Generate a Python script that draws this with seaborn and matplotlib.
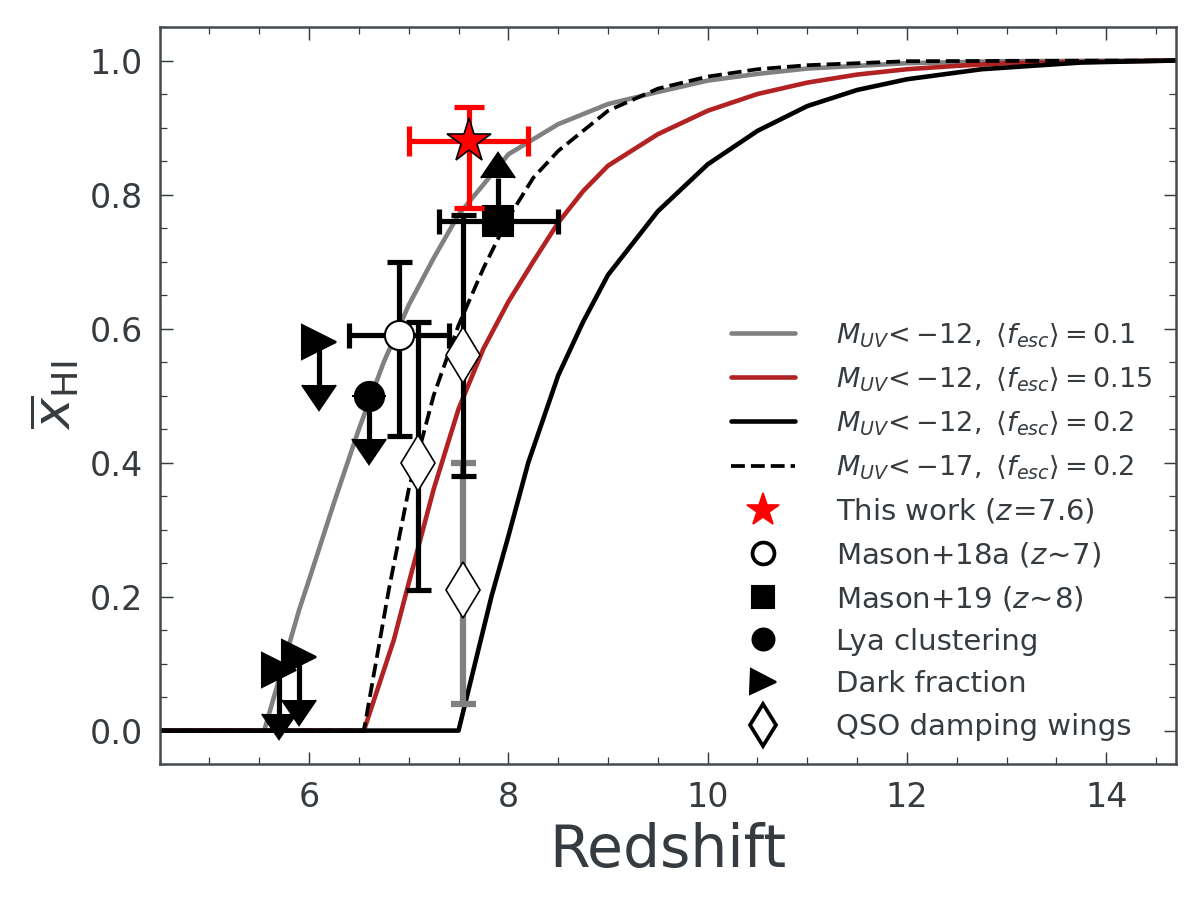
import numpy as np
import pandas as pd
import seaborn as sns
import matplotlib.pyplot as plt
from matplotlib.ticker import MultipleLocator

# model curves (redshift, mean neutral fraction)
z_f01 = [4.5, 5.55, 5.9, 6.0, 6.25, 6.5, 6.75, 7.0, 7.25, 7.5, 7.75, 8.0, 8.5, 9.0, 9.5, 10.0, 10.5, 11.0, 12.0, 13.0, 14.7]
x_f01 = [0.0, 0.0, 0.18, 0.225, 0.34, 0.45, 0.55, 0.635, 0.705, 0.77, 0.815, 0.86, 0.905, 0.935, 0.953, 0.97, 0.98, 0.988, 0.996, 0.999, 1.0]

z_f015 = [4.5, 6.55, 6.85, 7.0, 7.25, 7.5, 7.75, 8.0, 8.25, 8.5, 8.75, 9.0, 9.5, 10.0, 10.5, 11.0, 11.5, 12.0, 12.5, 13.0, 14.7]
x_f015 = [0.0, 0.0, 0.135, 0.22, 0.36, 0.48, 0.57, 0.64, 0.70, 0.758, 0.805, 0.843, 0.89, 0.925, 0.95, 0.967, 0.979, 0.987, 0.992, 0.996, 1.0]

z_f02 = [4.5, 7.5, 7.83, 8.0, 8.2, 8.5, 8.75, 9.0, 9.5, 10.0, 10.5, 11.0, 11.5, 12.0, 12.75, 13.75, 14.7]
x_f02 = [0.0, 0.0, 0.20, 0.29, 0.40, 0.53, 0.61, 0.68, 0.775, 0.845, 0.895, 0.932, 0.956, 0.972, 0.987, 0.997, 1.0]

z_m17 = [4.5, 6.55, 6.8, 7.0, 7.25, 7.5, 7.75, 8.0, 8.25, 8.5, 9.0, 9.5, 10.0, 10.5, 11.0, 12.0, 14.7]
x_m17 = [0.0, 0.0, 0.21, 0.36, 0.50, 0.605, 0.69, 0.765, 0.825, 0.865, 0.925, 0.958, 0.976, 0.987, 0.993, 0.999, 1.0]

# this work
tw_z, tw_x = [7.6], [0.88]
tw_zerr = [0.6]
tw_xerr = [[0.10], [0.05]]

# Mason+18a
m18_z, m18_x = [6.9], [0.59]
m18_zerr = [0.5]
m18_xerr = [[0.15], [0.11]]

# Mason+19 (lower limit)
m19_z, m19_x = [7.9], [0.76]
m19_zerr = [0.6]

# Lya clustering (upper limit)
lya_z, lya_x = [6.6], [0.50]

# dark fraction (upper limits)
dark_z = [5.7, 5.9, 6.1]
dark_x = [0.09, 0.11, 0.58]

# QSO damping wings
qso_z = [7.09, 7.54]
qso_x = [0.40, 0.56]
qso_err = [[0.19, 0.18], [0.21, 0.21]]
qso2_z, qso2_x = [7.54], [0.21]
qso2_err = [[0.17], [0.19]]

lim_len = 0.065

txt = '#363b40'
sns.set_theme(style='ticks', rc={
    'axes.edgecolor': '#454a4f', 'axes.linewidth': 1.2,
    'xtick.direction': 'in', 'ytick.direction': 'in',
    'xtick.top': True, 'ytick.right': True,
    'xtick.color': txt, 'ytick.color': txt,
    'axes.labelcolor': txt, 'text.color': txt,
    'xtick.major.size': 6, 'ytick.major.size': 6,
    'xtick.minor.size': 3.5, 'ytick.minor.size': 3.5,
    'xtick.major.width': 0.7, 'ytick.major.width': 0.7,
    'xtick.minor.width': 0.6, 'ytick.minor.width': 0.6,
    'xtick.minor.visible': True, 'ytick.minor.visible': True,
})
plt.rcParams['font.family'] = ['DejaVu Sans']
plt.rcParams['mathtext.fontset'] = 'dejavusans'

fig, ax = plt.subplots(figsize=(8, 6), dpi=150)
fig.subplots_adjust(left=0.133, right=0.98, bottom=0.151, top=0.97)

lab = r'$M_{UV}\!<-%s,\ \langle f_{esc}\rangle=%s$'
sns.lineplot(x=z_f01, y=x_f01, color='gray', lw=2.2, ax=ax, label=lab % ('12', '0.1'), zorder=2)
sns.lineplot(x=z_f015, y=x_f015, color='#b22222', lw=2.2, ax=ax, label=lab % ('12', '0.15'), zorder=2)
sns.lineplot(x=z_f02, y=x_f02, color='black', lw=2.2, ax=ax, label=lab % ('12', '0.2'), zorder=2)
sns.lineplot(x=z_m17, y=x_m17, color='black', lw=1.8, linestyle='--', ax=ax,
             label=lab % ('17', '0.2'), zorder=2)

# error bars and limits
ax.errorbar(qso2_z, qso2_x, yerr=qso2_err, fmt='none', ecolor='gray', elinewidth=3,
            capsize=6, capthick=3, zorder=3)
ax.errorbar(qso_z, qso_x, yerr=qso_err, fmt='none', ecolor='black', elinewidth=2.5,
            capsize=6, capthick=2.5, zorder=3)
ax.errorbar(m18_z, m18_x, xerr=m18_zerr, yerr=m18_xerr, fmt='none', ecolor='black',
            elinewidth=2.5, capsize=6, capthick=2.5, zorder=3)
ax.errorbar(m19_z, m19_x, xerr=m19_zerr, fmt='none', ecolor='black',
            elinewidth=2.5, capsize=6, capthick=2.5, zorder=3)
ax.errorbar(m19_z, m19_x, yerr=lim_len, lolims=True, fmt='none', color='black',
            ecolor='black', elinewidth=2.5, capsize=8, zorder=3)
ax.errorbar(lya_z, lya_x, yerr=lim_len, uplims=True, fmt='none', color='black',
            ecolor='black', elinewidth=2.5, capsize=8, zorder=3)
ax.errorbar(dark_z, dark_x, yerr=lim_len, uplims=True, fmt='none', color='black',
            ecolor='black', elinewidth=2.5, capsize=8, zorder=3)
ax.errorbar(tw_z, tw_x, xerr=tw_zerr, yerr=tw_xerr, fmt='none', ecolor='red',
            elinewidth=2.5, capsize=7, capthick=2.5, zorder=5)

# markers
ax.plot(tw_z, tw_x, ls='none', marker='*', ms=22, mfc='red', mec='black', mew=0.8,
        label=r'This work ($z\!=\!7.6$)', zorder=6)
ax.plot(m18_z, m18_x, ls='none', marker='o', ms=14, mfc='white', mec='black', mew=1,
        label=r'Mason+18a ($z\!\sim\!7$)', zorder=4)
ax.plot(m19_z, m19_x, ls='none', marker='s', ms=14, mfc='black', mec='black',
        label=r'Mason+19 ($z\!\sim\!8$)', zorder=4)
ax.plot(lya_z, lya_x, ls='none', marker='o', ms=14, mfc='black', mec='black',
        label='Lya clustering', zorder=4)
ax.plot(dark_z, dark_x, ls='none', marker='>', ms=16, mfc='black', mec='black',
        label='Dark fraction', zorder=4)
ax.plot(qso_z + qso2_z, qso_x + qso2_x, ls='none', marker='d', ms=19, mfc='white',
        mec='black', mew=0.8, label='QSO damping wings', zorder=4)

ax.set_xlim(4.5, 14.7)
ax.set_ylim(-0.05, 1.05)
ax.xaxis.set_major_locator(MultipleLocator(2))
ax.xaxis.set_minor_locator(MultipleLocator(0.5))
ax.yaxis.set_major_locator(MultipleLocator(0.2))
ax.yaxis.set_minor_locator(MultipleLocator(0.05))
ax.tick_params(labelsize=16, pad=8)
ax.set_xlabel('Redshift', fontsize=28)
ax.set_ylabel(r'$\overline{x}_{\mathrm{HI}}$', fontsize=25)

h, l = ax.get_legend_handles_labels()
leg = ax.legend(h, l, loc='lower right', frameon=False, fontsize=14,
                handlelength=2.2, labelspacing=0.5, borderaxespad=0.4,
                handletextpad=1.4, numpoints=1, markerscale=0.75)
for t in leg.get_texts()[:4]:
    t.set_fontsize(13)
lh = leg.legend_handles
lh[4].set_markeredgecolor('red')
lh[5].set_markeredgewidth(1.8)
lh[9].set_markeredgewidth(1.8)

fig.savefig('out.png', dpi=150)
